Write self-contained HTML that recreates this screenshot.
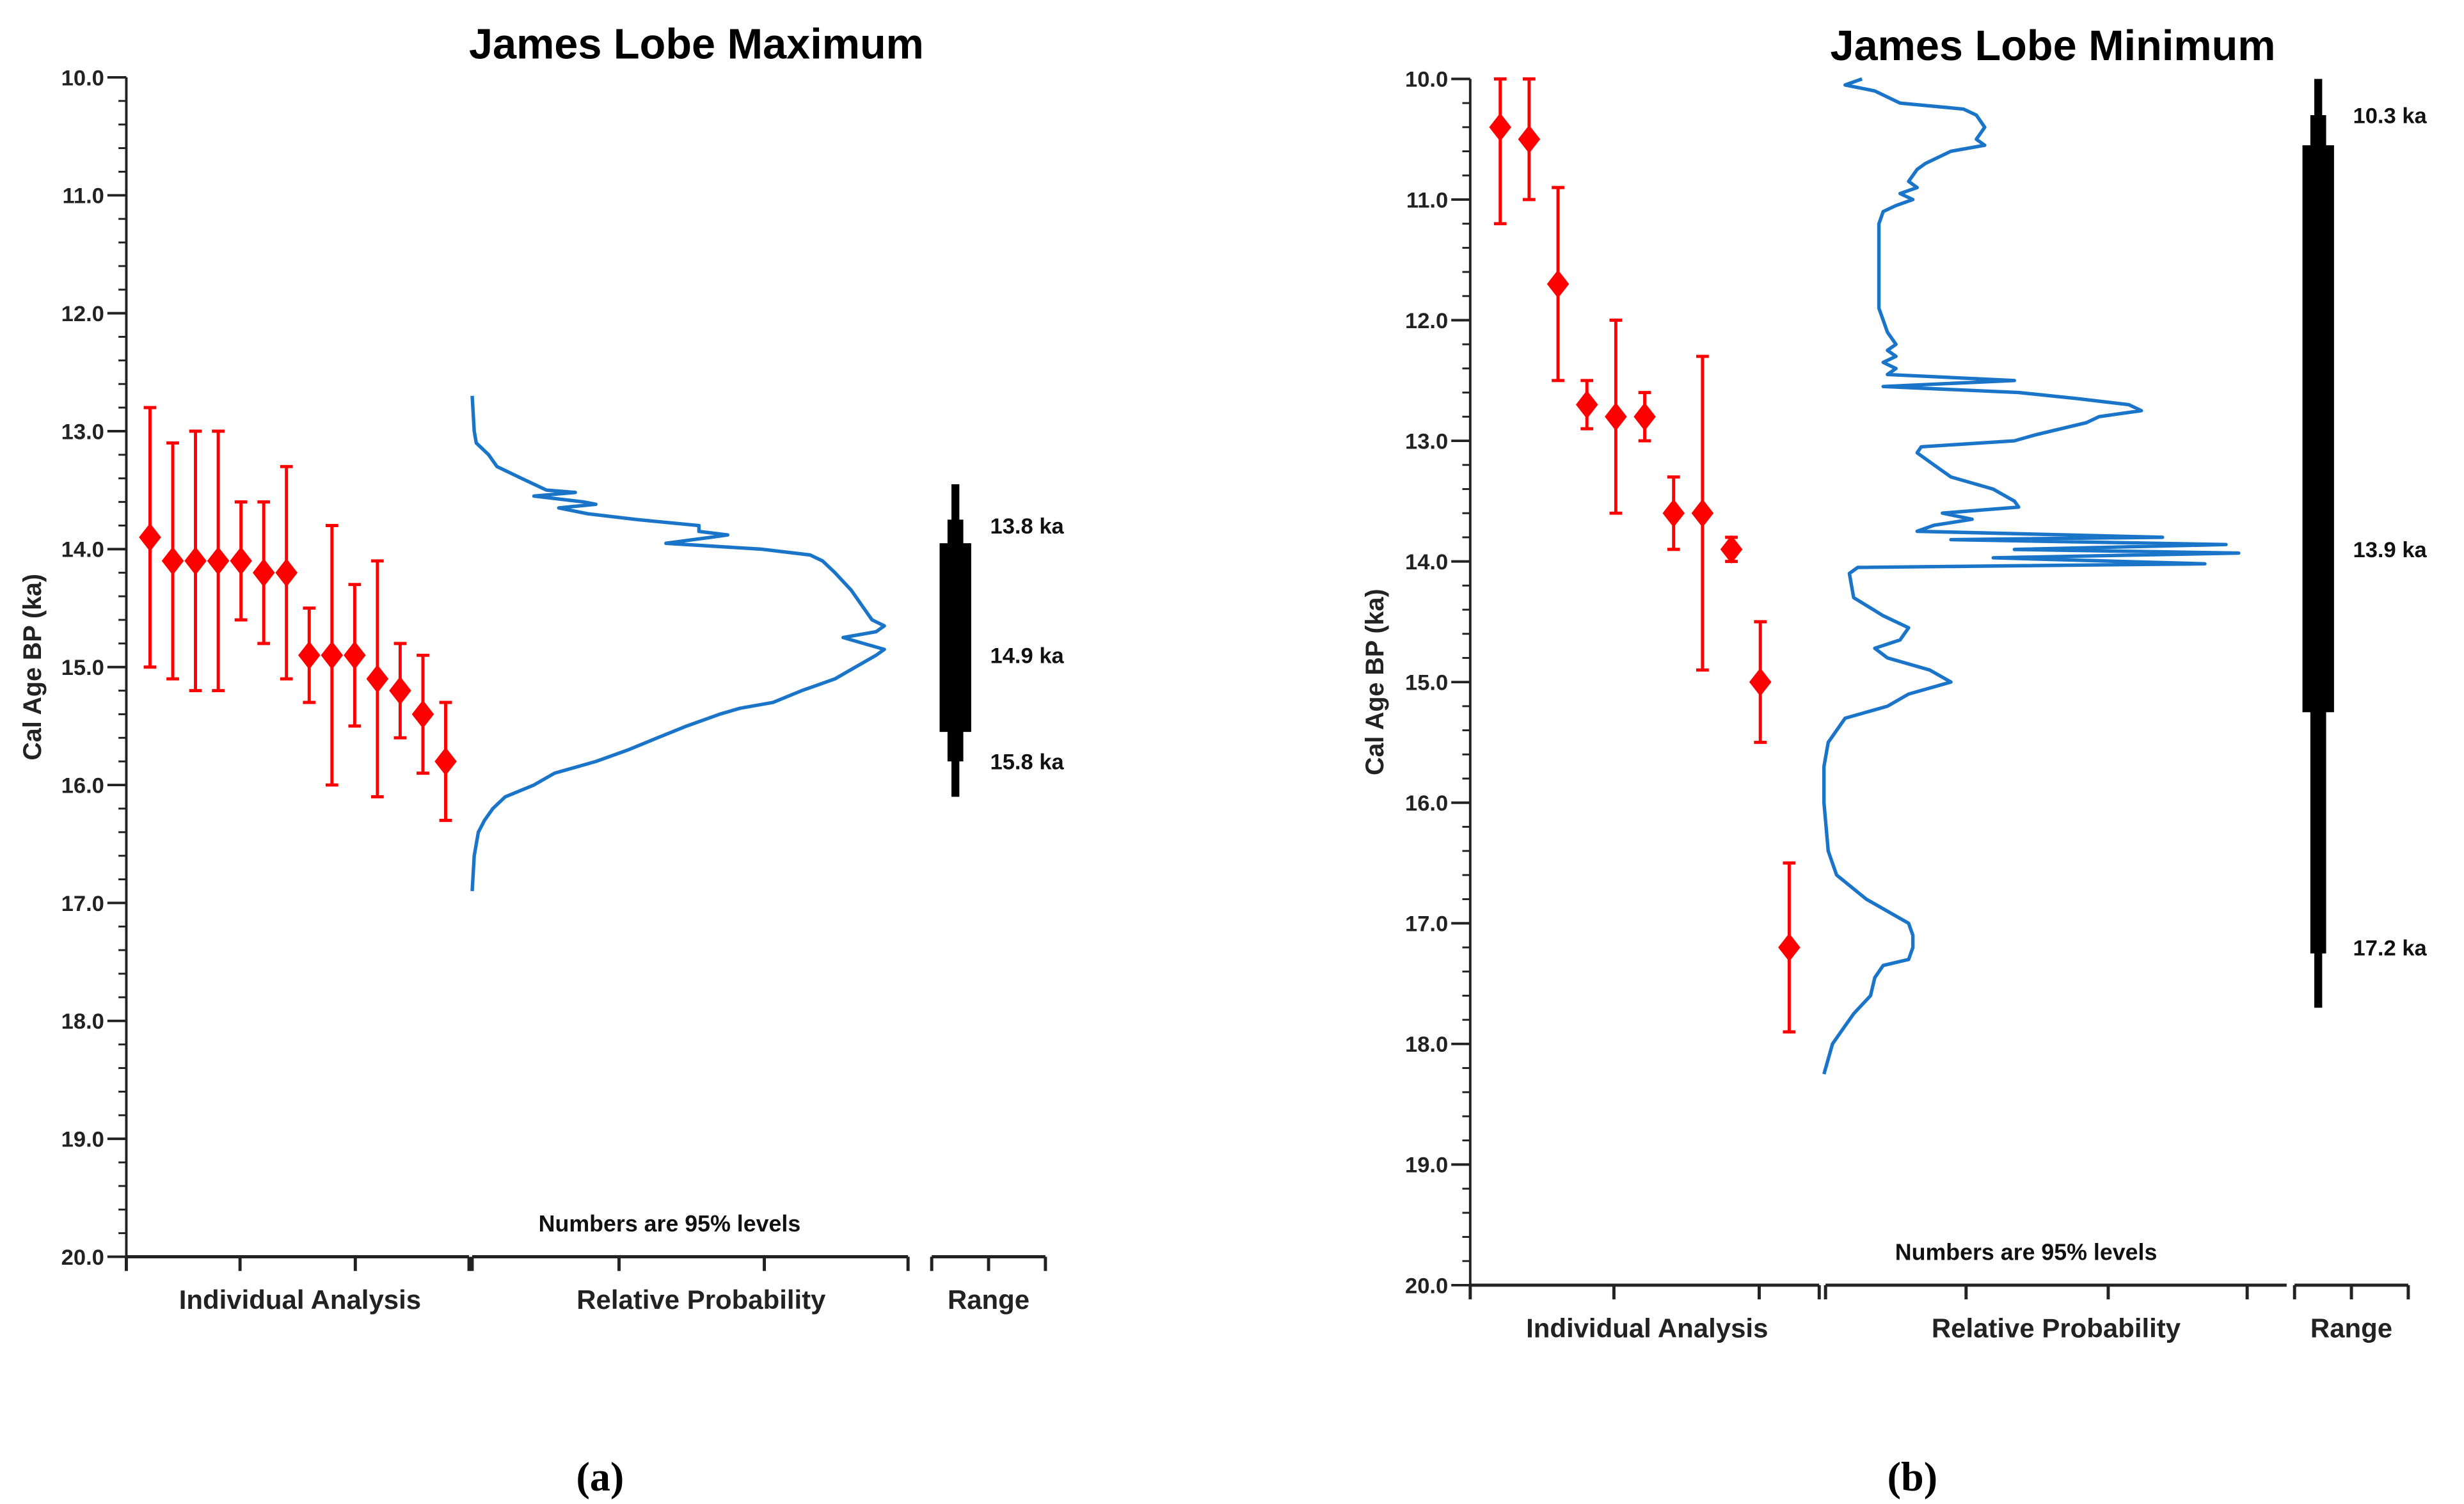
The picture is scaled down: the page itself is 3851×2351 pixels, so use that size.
<!DOCTYPE html>
<html><head><meta charset="utf-8"><style>
html,body{margin:0;padding:0;background:#fff;}
svg{display:block;font-family:"Liberation Sans",Arial,sans-serif;}
</style></head><body>
<svg id="fig" width="3851" height="2351" viewBox="0 0 1560.3 952.6" preserveAspectRatio="none" xmlns="http://www.w3.org/2000/svg"></svg>
<script>
// ---- Data: panel (a) James Lobe Maximum
const aAges = [13.9,14.1,14.1,14.1,14.1,14.2,14.2,14.9,14.9,14.9,15.1,15.2,15.4,15.8];
const aLow  = [12.8,13.1,13.0,13.0,13.6,13.6,13.3,14.5,13.8,14.3,14.1,14.8,14.9,15.3];
const aHigh = [15.0,15.1,15.2,15.2,14.6,14.8,15.1,15.3,16.0,15.5,16.1,15.6,15.9,16.3];
const aProbAge = [12.7,13.0,13.1,13.2,13.3,13.4,13.5,13.52,13.55,13.6,13.62,13.65,13.7,13.75,13.8,13.85,13.88,13.9,13.95,14.0,14.05,14.1,14.2,14.35,14.5,14.6,14.65,14.7,14.75,14.8,14.85,14.9,15.0,15.1,15.2,15.3,15.35,15.4,15.5,15.6,15.7,15.8,15.9,16.0,16.1,16.2,16.3,16.4,16.6,16.9];
const aProbVal = [0,0.5,1,4,6,12,18,25,15,27,30,21,28,40,55,55,62,58,47,70,82,85,88,92,95,97,100,98,90,95,100,98,93,88,80,73,65,60,52,45,38,30,20,15,8,5,3,1.5,0.5,0];
const aRange = [13.45,16.1,13.75,15.8,13.95,15.55];
const aRangeLabels = ["13.8 ka","14.9 ka","15.8 ka"];
const aRangeLabelAges = [13.8,14.9,15.8];
// ---- Data: panel (b) James Lobe Minimum
const bAges = [10.4,10.5,11.7,12.7,12.8,12.8,13.6,13.6,13.9,15.0,17.2];
const bLow  = [10.0,10.0,10.9,12.5,12.0,12.6,13.3,12.3,13.8,14.5,16.5];
const bHigh = [11.2,11.0,12.5,12.9,13.6,13.0,13.9,14.9,14.0,15.5,17.9];
const bProbAge = [10.0,10.05,10.1,10.2,10.25,10.3,10.4,10.5,10.55,10.6,10.7,10.75,10.85,10.9,10.95,11.0,11.05,11.1,11.2,11.5,11.9,12.1,12.2,12.25,12.3,12.35,12.4,12.45,12.5,12.55,12.6,12.65,12.7,12.75,12.8,12.85,12.95,13.0,13.05,13.1,13.2,13.3,13.4,13.5,13.55,13.6,13.65,13.7,13.75,13.8,13.82,13.86,13.9,13.93,13.97,14.02,14.05,14.1,14.3,14.45,14.55,14.65,14.72,14.8,14.9,15.0,15.1,15.2,15.3,15.5,15.7,16.0,16.4,16.6,16.8,17.0,17.1,17.2,17.3,17.35,17.45,17.6,17.75,17.9,18.0,18.25];
const bProbVal = [9,5,12,18,33,36,38,36,38,30,24,22,20,22,18,21,17,14,13,13,13,15,17,15,17,14,17,15,45,14,46,60,72,75,65,62,50,45,23,22,26,30,40,45,46,28,35,26,22,80,30,95,45,98,40,90,8,6,7,14,20,18,12,15,25,30,20,15,5,1,0,0,1,3,10,20,21,21,20,14,12,11,7,4,2,0];
const bRange = [10.0,17.7,10.3,17.25,10.55,15.25];
const bRangeLabels = ["10.3 ka","13.9 ka","17.2 ka"];
const bRangeLabelAges = [10.3,13.9,17.2];
const yTicks = [10,11,12,13,14,15,16,17,18,19,20];

const NS="http://www.w3.org/2000/svg";
const svg=document.getElementById('fig');
function mk(tag,attrs,parent){const e=document.createElementNS(NS,tag);for(const k in attrs)e.setAttribute(k,attrs[k]);(parent||svg).appendChild(e);return e;}

function panel(cfg){
  const g=mk('g',{});
  
  
  const y=a=>cfg.y10+(a-10)/10*(cfg.y20-cfg.y10);
  const t=mk('text',{x:cfg.titleX,y:cfg.y10-12,'text-anchor':'middle','font-size':27,'font-weight':'bold'},g);
  t.textContent=cfg.title;
  
  
  const ax=mk('g',{stroke:'#222','stroke-width':1.6},g);
  
  
  mk('line',{x1:cfg.ax,y1:cfg.y10,x2:cfg.ax,y2:cfg.y20},ax);
  for(let v=10;v<=20.001;v+=0.2){const yy=y(v);const major=Math.abs(v-Math.round(v))<0.01;
    mk('line',{x1:cfg.ax-(major?12:5),y1:yy,x2:cfg.ax,y2:yy,'stroke-width':major?1.6:1.2},ax);}
  yTicks.forEach(v=>{const tt=mk('text',{x:cfg.ax-14,y:y(v)+5,'text-anchor':'end','font-size':14,'font-weight':'bold',fill:'#222',stroke:'none'},g);tt.textContent=v.toFixed(1);
    
    });
  const yt=mk('text',{x:0,y:0,transform:`translate(${cfg.ytX},${y(15)}) rotate(-90)`,'text-anchor':'middle','font-size':16,'font-weight':'bold',fill:'#222'},g);
  yt.textContent='Cal Age BP (ka)';
  
  
  const bx=mk('g',{stroke:'#222','stroke-width':2},g);
  
  
  cfg.segs.forEach(s=>{mk('line',{x1:s[0],y1:cfg.y20,x2:s[1],y2:cfg.y20},bx);
    s[2].forEach(tx=>mk('line',{x1:tx,y1:cfg.y20,x2:tx,y2:cfg.y20+9},bx));});
  cfg.labels.forEach(l=>{const e=mk('text',{x:l[0],y:cfg.y20+33,'text-anchor':'middle','font-size':17,'font-weight':'bold',fill:'#222'},g);e.textContent=l[1];
    
    });
  const nt=mk('text',{x:cfg.noteX,y:cfg.y20-16,'text-anchor':'middle','font-size':14.5,'font-weight':'bold',fill:'#111'},g);
  nt.textContent='Numbers are 95% levels';
  
  
  cfg.ages.forEach((a,i)=>{const x=cfg.x0+i*cfg.dx;
    const eg=mk('g',{},g);
    
    
    mk('line',{x1:x,y1:y(cfg.low[i]),x2:x,y2:y(cfg.high[i]),stroke:'#f00','stroke-width':2},eg);
    mk('line',{x1:x-4,y1:y(cfg.low[i]),x2:x+4,y2:y(cfg.low[i]),stroke:'#f00','stroke-width':2},eg);
    mk('line',{x1:x-4,y1:y(cfg.high[i]),x2:x+4,y2:y(cfg.high[i]),stroke:'#f00','stroke-width':2},eg);
    const yy=y(a);
    mk('polygon',{points:`${x},${yy-9} ${x+7},${yy} ${x},${yy+9} ${x-7},${yy}`,fill:'#f00'},eg);});
  const pts=cfg.pAge.map((a,i)=>`${(cfg.p0+cfg.pVal[i]/100*(cfg.p1-cfg.p0)).toFixed(1)},${y(a).toFixed(1)}`).join(' ');
  const pl=mk('polyline',{points:pts,fill:'none',stroke:'#1a75c9','stroke-width':2.2,'stroke-linejoin':'round'},g);
  
  
  const rg=mk('g',{fill:'#000'},g);
  
  
  const r=cfg.range,rx=cfg.rx;
  [[0,5],[2,10],[4,20]].forEach(([k,w])=>mk('rect',{x:rx-w/2,y:y(r[k]),width:w,height:y(r[k+1])-y(r[k])},rg));
  cfg.rl.forEach((s,i)=>{const e=mk('text',{x:rx+22,y:y(cfg.rla[i])+5,'font-size':14,'font-weight':'bold',fill:'#111'},g);e.textContent=s;
    
    });
  const cap=mk('text',{x:cfg.capX,y:944,'text-anchor':'middle','font-size':26,'font-weight':'bold','font-family':'"Liberation Serif",serif',fill:'#000'},g);
  cap.textContent=cfg.cap;
  
  
}
panel({name:'panel-a',title:'James Lobe Maximum',titleX:441,ax:80,y10:49,y20:796,ytX:26,
  segs:[[80,297,[80,152,225,297]],[299,575,[299,392,484,575]],[590,662,[590,626,662]]],
  labels:[[190,'Individual Analysis'],[444,'Relative Probability'],[626,'Range']],noteX:424,
  ages:aAges,low:aLow,high:aHigh,x0:95,dx:14.4,pAge:aProbAge,pVal:aProbVal,p0:299,p1:560,
  range:aRange,rx:605,rl:aRangeLabels,rla:aRangeLabelAges,capX:380,cap:'(a)'});
panel({name:'panel-b',title:'James Lobe Minimum',titleX:1300,ax:931,y10:50,y20:814,ytX:876,
  segs:[[931,1152,[931,1022,1114,1152]],[1156,1448,[1156,1245,1335,1423]],[1453,1525,[1453,1489,1525]]],
  labels:[[1043,'Individual Analysis'],[1302,'Relative Probability'],[1489,'Range']],noteX:1283,
  ages:bAges,low:bLow,high:bHigh,x0:950,dx:18.3,pAge:bProbAge,pVal:bProbVal,p0:1155,p1:1423,
  range:bRange,rx:1468,rl:bRangeLabels,rla:bRangeLabelAges,capX:1211,cap:'(b)'});
</script>
</body></html>
